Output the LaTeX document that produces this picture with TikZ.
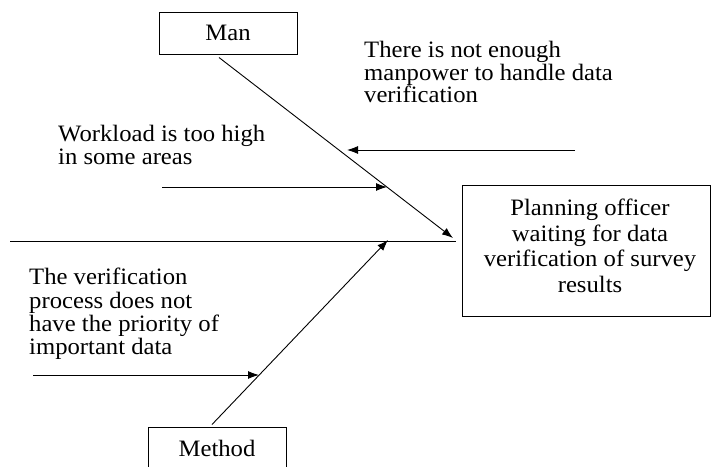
\documentclass[tikz,border=0pt]{standalone}
\usepackage{fontspec}
\setmainfont{Liberation Serif}[FakeStretch=1.05]
\usetikzlibrary{arrows.meta}
\begin{document}
\begin{tikzpicture}[x=1pt,y=-1pt,
  txt/.style={font={\fontsize{23.5}{23.3}\selectfont},inner sep=0pt},
  lbl/.style={txt,align=left,anchor=north west},
  catbox/.style={draw,line width=1pt,txt,minimum width=138pt,minimum height=42pt},
  bone/.style={line width=0.9pt},
  arr/.style={bone,-{Latex[length=11pt,width=8pt]}}]
\useasboundingbox (0,0) rectangle (711,466);
\node[catbox] (man) at (228,33) {Man};
\node[catbox] (method) at (217,448) {Method};
\node[draw,line width=1pt,minimum width=248pt,minimum height=131pt,inner sep=0pt] (effect) at (586,250.5) {};
\node[txt,align=center,font={\fontsize{23.5}{25.6}\selectfont}] (efftext) at (590,246) {Planning officer\\waiting for data\\verification of survey\\results};
\coordinate (tail) at (10,241);
\coordinate (head) at (456,241);
\coordinate (mantip) at (453,238);
\coordinate (methtip) at (388,240);
\coordinate (c1s) at (575,150);
\coordinate (c1e) at (347,150);
\coordinate (c2s) at (162,187);
\coordinate (c2e) at (387,187);
\coordinate (c3s) at (33,375);
\coordinate (c3e) at (259,375);
\draw[bone] (tail) -- (head);
\draw[arr] ([xshift=-9pt,yshift=-3pt]man.south) -- (mantip);
\draw[arr] ([xshift=-5pt,yshift=2pt]method.north) -- (methtip);
\draw[arr] (c1s) -- (c1e);
\draw[arr] (c2s) -- (c2e);
\draw[arr] (c3s) -- (c3e);
\node[lbl,font={\fontsize{23.5}{22.6}\selectfont}] (t1) at (364,41) {There is not enough\\manpower to handle data\\verification};
\node[lbl] (t2) at (58,125) {Workload is too high\\in some areas};
\node[lbl] (t3) at (29,268) {The verification\\process does not\\have the priority of\\important data};
\end{tikzpicture}
\end{document}
